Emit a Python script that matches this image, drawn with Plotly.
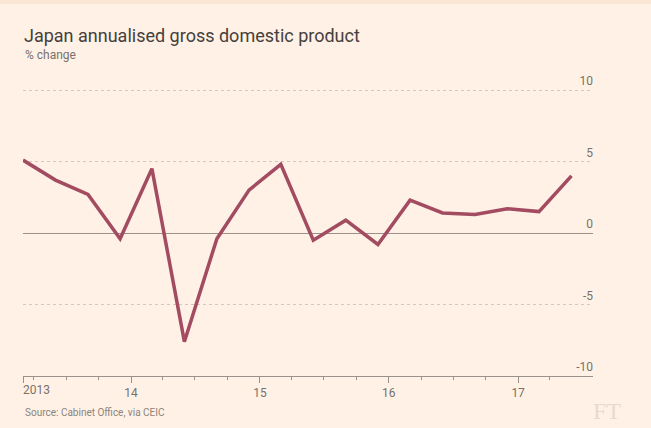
import plotly.graph_objects as go

# Quarterly data, plotted at the first day of each quarter's last month
quarters = ["2013-03-01", "2013-06-01", "2013-09-01", "2013-12-01",
            "2014-03-01", "2014-06-01", "2014-09-01", "2014-12-01",
            "2015-03-01", "2015-06-01", "2015-09-01", "2015-12-01",
            "2016-03-01", "2016-06-01", "2016-09-01", "2016-12-01",
            "2017-03-01", "2017-06-01"]
gdp_change = [5.1, 3.7, 2.7, -0.4, 4.5, -7.6, -0.4, 3.0, 4.8,
              -0.5, 0.9, -0.8, 2.3, 1.4, 1.3, 1.7, 1.5, 4.0]

major_ticks = ["2013-03-01", "2014-01-01", "2015-01-01", "2016-01-01", "2017-01-01"]
major_labels = ["", "14", "15", "16", "17"]
minor_ticks = ["2013-04-01", "2013-07-01", "2013-10-01",
               "2014-04-01", "2014-07-01", "2014-10-01",
               "2015-04-01", "2015-07-01", "2015-10-01",
               "2016-04-01", "2016-07-01", "2016-10-01",
               "2017-04-01", "2017-07-01"]
y_ticks = [-10, -5, 0, 5, 10]
y_labels = ["-10", "-5", "0", "5", "10"]

BG = "#FFF1E5"
STRIP = "#FBE6D3"
LINE = "#A24B61"
AXIS = "#9A918B"
GRID = "#D3C8BF"
TEXT = "#78716C"
TITLE = "#45403C"

W, H = 651, 428
M_L, M_R, M_T, M_B = 23, 58, 69, 52
PW = W - M_L - M_R
PH = H - M_T - M_B


def py(y_px):
    """paper y coordinate for a pixel row measured from the top"""
    return 1 - (y_px - M_T) / PH


fig = go.Figure()
fig.add_trace(go.Scatter(
    x=quarters, y=gdp_change, mode="lines",
    line=dict(color=LINE, width=3.5),
    hoverinfo="skip", showlegend=False,
))

fig.update_layout(
    width=W, height=H,
    paper_bgcolor=BG, plot_bgcolor=BG,
    margin=dict(l=M_L, r=M_R, t=M_T, b=M_B),
    font=dict(family="Roboto", color=TEXT, size=12),
    xaxis=dict(
        type="date",
        range=["2013-03-01", "2017-08-01"],
        tickmode="array", tickvals=major_ticks, ticktext=major_labels,
        ticks="outside", ticklen=6, tickcolor=AXIS, tickwidth=1,
        showline=True, linecolor=AXIS, linewidth=1,
        showgrid=False, zeroline=False,
        tickfont=dict(size=12, color=TEXT),
        minor=dict(tickvals=minor_ticks, ticks="outside", ticklen=3,
                   tickcolor=AXIS, tickwidth=1, showgrid=False),
    ),
    yaxis=dict(
        range=[-10, 11.47],
        side="right",
        tickmode="array", tickvals=y_ticks, ticktext=y_labels,
        ticklabelposition="inside", ticklabelshift=-9, ticklabelstandoff=-3,
        ticks="",
        showgrid=True, gridcolor=GRID, griddash="dot", gridwidth=1,
        zeroline=True, zerolinecolor=AXIS, zerolinewidth=1,
        showline=False,
        tickfont=dict(size=12, color=TEXT),
    ),
    shapes=[
        dict(type="rect", xref="paper", yref="paper", layer="below",
             x0=-M_L / PW, x1=1 + M_R / PW,
             y0=py(4), y1=py(0),
             fillcolor=STRIP, line=dict(width=0)),
    ],
    annotations=[
        dict(text="Japan annualised gross domestic product", xref="paper", yref="paper",
             x=-0.0015, y=py(36), xanchor="left", yanchor="middle", showarrow=False,
             font=dict(size=18, color=TITLE, family="Roboto")),
        dict(text="% change", xref="paper", yref="paper",
             x=0, y=py(55), xanchor="left", yanchor="middle", showarrow=False,
             font=dict(size=12, color=TEXT, family="Roboto")),
        dict(text="2013", xref="x", yref="paper", x="2013-03-01", y=py(390),
             xanchor="left", yanchor="middle", showarrow=False, xshift=-2,
             font=dict(size=12, color=TEXT, family="Roboto")),
        dict(text="Source: Cabinet Office, via CEIC", xref="paper", yref="paper",
             x=0, y=py(412), xanchor="left", yanchor="middle", showarrow=False,
             font=dict(size=10, color="#8A847F", family="Roboto")),
        dict(text="FT", xref="paper", yref="paper",
             x=1.0, y=py(411), xshift=-2, xanchor="left", yanchor="middle",
             showarrow=False,
             font=dict(size=24, color="#E8DACF", family="Liberation Serif")),
    ],
)

fig.write_html(
    "out.html",
    config={"displayModeBar": False},
    post_script="document.body.style.margin='0';document.body.style.background='" + BG + "';",
)
